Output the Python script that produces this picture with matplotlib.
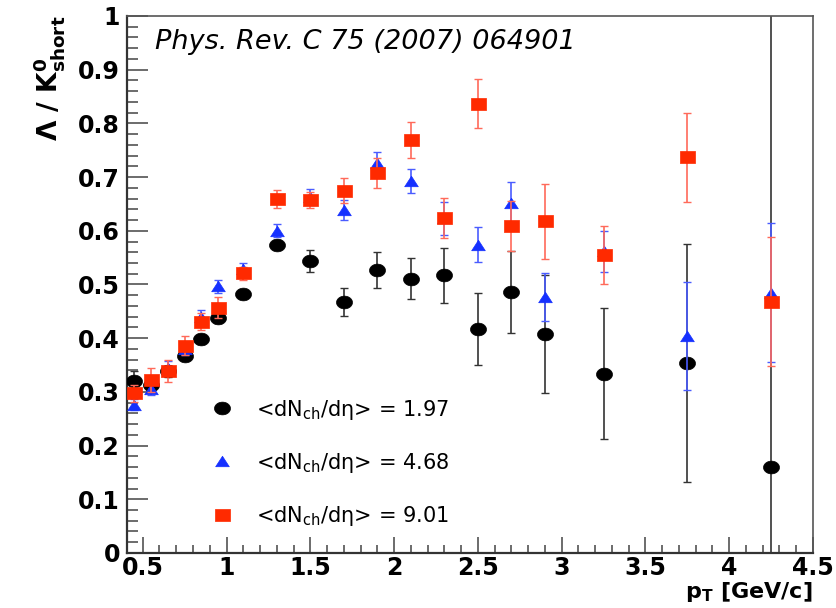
import numpy as np
import matplotlib
matplotlib.use("Agg")
import matplotlib.pyplot as plt
from matplotlib.lines import Line2D
from matplotlib.ticker import MultipleLocator, FuncFormatter

# Lambda / K0short ratio versus pT for three multiplicity classes
pt = [0.45, 0.55, 0.65, 0.75, 0.85, 0.95, 1.1, 1.3, 1.5, 1.7,
      1.9, 2.1, 2.3, 2.5, 2.7, 2.9, 3.25, 3.75, 4.25]

ratio_197 = [0.320, 0.312, 0.338, 0.367, 0.398, 0.437, 0.482, 0.574, 0.544, 0.467,
             0.527, 0.511, 0.517, 0.417, 0.486, 0.408, 0.334, 0.354, 0.160]
err_197 = [0.019, 0.010, 0.010, 0.008, 0.008, 0.008, 0.008, 0.008, 0.020, 0.026,
           0.034, 0.038, 0.051, 0.067, 0.077, 0.110, 0.122, 0.222, 0.900]

ratio_468 = [0.276, 0.305, 0.345, 0.380, 0.440, 0.497, 0.528, 0.600, 0.663, 0.639,
             0.726, 0.693, 0.623, 0.574, 0.651, 0.477, 0.562, 0.404, 0.485]
err_468 = [0.010, 0.010, 0.012, 0.012, 0.012, 0.012, 0.012, 0.012, 0.015, 0.018,
           0.020, 0.022, 0.030, 0.033, 0.040, 0.045, 0.038, 0.100, 0.130]

ratio_901 = [0.297, 0.322, 0.339, 0.386, 0.431, 0.457, 0.521, 0.659, 0.657, 0.675,
             0.707, 0.769, 0.624, 0.837, 0.609, 0.618, 0.554, 0.737, 0.468]
err_901 = [0.015, 0.022, 0.020, 0.018, 0.015, 0.020, 0.012, 0.017, 0.015, 0.023,
           0.028, 0.033, 0.037, 0.046, 0.046, 0.070, 0.054, 0.083, 0.120]

labels = ["<dN$_{\\mathrm{ch}}$/dη> = 1.97",
          "<dN$_{\\mathrm{ch}}$/dη> = 4.68",
          "<dN$_{\\mathrm{ch}}$/dη> = 9.01"]

x_ticks = [0.5, 1, 1.5, 2, 2.5, 3, 3.5, 4, 4.5]
y_ticks = [0, 0.1, 0.2, 0.3, 0.4, 0.5, 0.6, 0.7, 0.8, 0.9, 1]

plt.rcParams["font.family"] = ["DejaVu Sans"]
plt.rcParams["mathtext.fontset"] = "dejavusans"

# slightly flattened marker shapes
t = np.linspace(0, 2 * np.pi, 48)
ellipse = list(zip(np.cos(t), 0.8 * np.sin(t)))
triangle = [(-1, -0.77), (1, -0.77), (0, 0.77), (-1, -0.77)]
rect = [(-1, -0.8), (1, -0.8), (1, 0.8), (-1, 0.8), (-1, -0.8)]

fig = plt.figure(figsize=(8.37, 6.08), dpi=100)
ax = fig.add_axes([0.1517, 0.0905, 0.8196, 0.8832])

series = [
    (ratio_197, err_197, ellipse, 11.5, "#000000", "#333333"),
    (ratio_468, err_468, triangle, 9.8, "#1530ff", "#4a5cff"),
    (ratio_901, err_901, rect, 10.8, "#ff2a00", "#ff6a5a"),
]

handles = []
for i, (vals, errs, mk, ms, col, ecol) in enumerate(series):
    ax.errorbar(pt, vals, yerr=errs, fmt="none", ecolor=ecol, elinewidth=1.2,
                capsize=2.6, capthick=1.0, zorder=2 + 2 * i)
    ax.plot(pt, vals, linestyle="none", marker=mk, markersize=ms,
            markerfacecolor=col, markeredgecolor=col, markeredgewidth=0.5,
            zorder=3 + 2 * i)
    handles.append(Line2D([], [], linestyle="none", marker=mk, markersize=ms,
                          markerfacecolor=col, markeredgecolor=col,
                          markeredgewidth=0.5))

ax.set_xlim(0.406, 4.5)
ax.set_ylim(0, 1)

ax.xaxis.set_major_locator(plt.FixedLocator(x_ticks))
ax.yaxis.set_major_locator(plt.FixedLocator(y_ticks))
ax.xaxis.set_minor_locator(MultipleLocator(0.1))
ax.yaxis.set_minor_locator(MultipleLocator(0.02))
fmt = FuncFormatter(lambda v, p: "%g" % v)
ax.xaxis.set_major_formatter(fmt)
ax.yaxis.set_major_formatter(fmt)

ax.tick_params(axis="both", which="both", direction="in", top=False, right=False,
               color="#444444", width=1.1, labelsize=17)
ax.tick_params(axis="x", which="major", length=11.5, pad=2.5)
ax.tick_params(axis="x", which="minor", length=5.5)
ax.tick_params(axis="y", which="major", length=15, pad=5)
ax.tick_params(axis="y", which="minor", length=7.7)
for lab in ax.get_xticklabels() + ax.get_yticklabels():
    lab.set_fontweight("bold")

for side in ["left", "bottom"]:
    ax.spines[side].set_color("#333333")
    ax.spines[side].set_linewidth(1.6)
for side in ["top", "right"]:
    ax.spines[side].set_color("#555555")
    ax.spines[side].set_linewidth(1.2)

ax.set_ylabel("Λ / K$^{\\mathbf{0}}_{\\mathbf{short}}$", fontsize=19,
              fontweight="bold", loc="top")
ax.yaxis.set_label_coords(-0.087, 1.0)
ax.set_xlabel("p$_{\\mathbf{T}}$ [GeV/c]", fontsize=16, fontweight="bold",
              loc="right")
ax.xaxis.set_label_coords(1.0, -0.050)

ax.text(0.041, 0.938, "Phys. Rev. C 75 (2007) 064901", transform=ax.transAxes,
        fontsize=19.5, fontstyle="italic", va="baseline", ha="left")

ax.legend(handles, labels, loc="center left", bbox_to_anchor=(0.124, 0.168),
          frameon=False, fontsize=15, borderpad=0, handlelength=1.0,
          handletextpad=1.1, labelspacing=1.4, borderaxespad=0)

fig.savefig("out.png", dpi=100)
